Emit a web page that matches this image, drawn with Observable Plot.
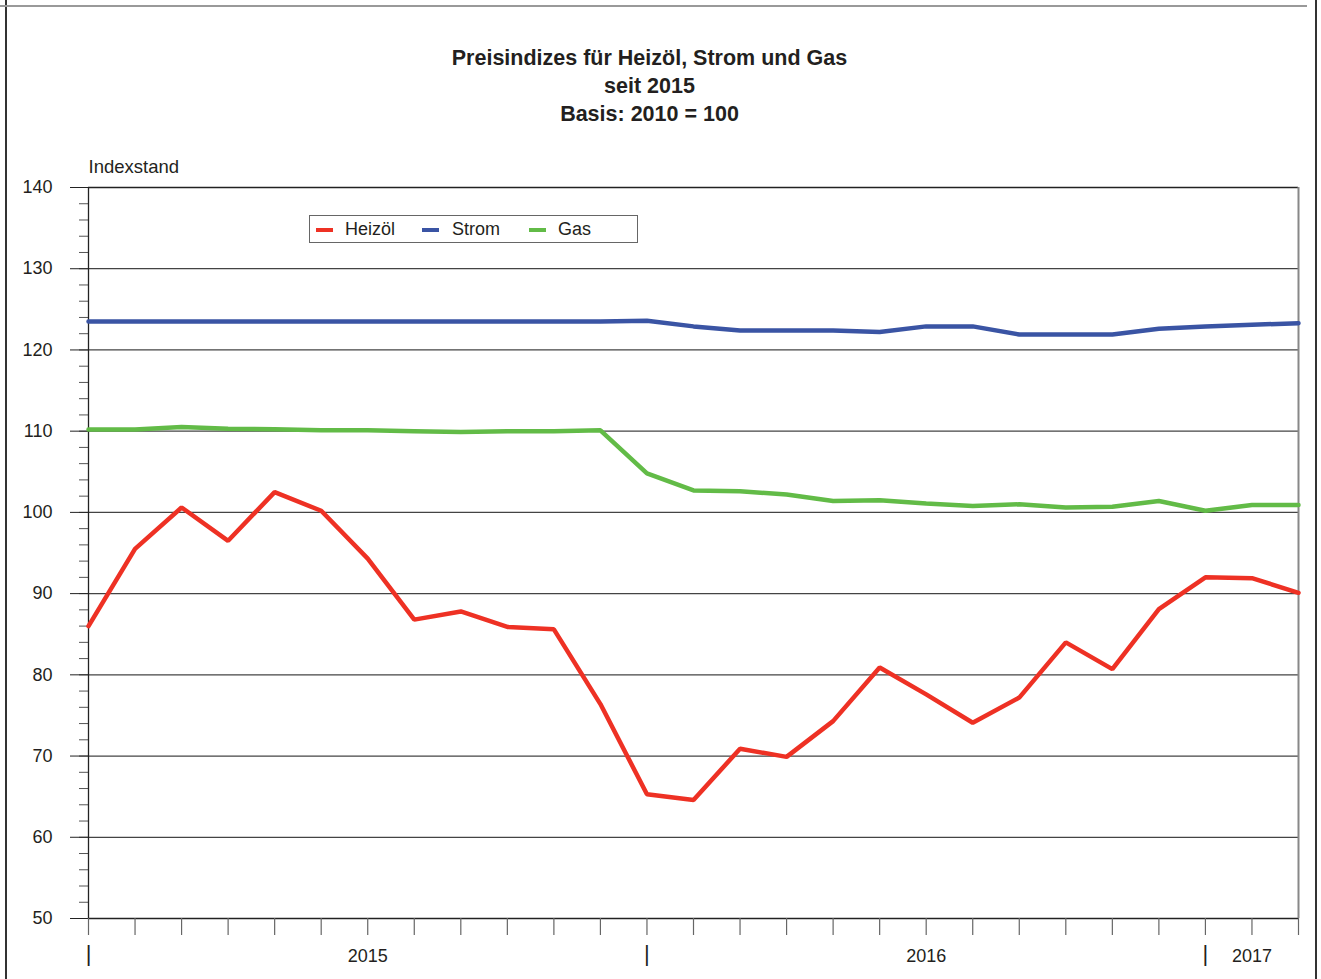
<!DOCTYPE html>
<html>
<head>
<meta charset="utf-8">
<script src="https://cdn.jsdelivr.net/npm/d3@7"></script>
<script src="https://cdn.jsdelivr.net/npm/@observablehq/plot@0.6"></script>
<style>
  body { margin: 0; background: #fff; font-family: "Liberation Sans", Arial, sans-serif; color: #231f20; }
  #wrap { position: relative; width: 1321px; height: 979px; overflow: hidden; background: #fff; }
  #title { position: absolute; top: 44px; left: 0; width: 1299px; text-align: center; font-weight: bold; font-size: 21.5px; line-height: 28px; }
  #chart { position: absolute; top: 150px; left: 0; }
  .bl { position: absolute; background: #333; }
  #legend { position: absolute; left: 309px; top: 215px; width: 327px; height: 26px; border: 1px solid #666; background: #fff; font-size: 18px; }
  #legend .sw { position: absolute; top: 12px; width: 17px; height: 4px; }
  #legend .lb { position: absolute; top: 2px; line-height: 22px; }
</style>
</head>
<body>
<div id="wrap">
  <div class="bl" style="left:5px;top:0;width:1.5px;height:979px;"></div>
  <div class="bl" style="left:0;top:5px;width:1307px;height:2px;background:#999;"></div>
  <div class="bl" style="left:1315px;top:0;width:1.5px;height:979px;"></div>
  <div id="title">Preisindizes für Heizöl, Strom und Gas<br>seit 2015<br>Basis: 2010 = 100</div>
  <div id="chart"></div>
  <div id="legend"></div>
</div>
<script>
const months = ["2015-01","2015-02","2015-03","2015-04","2015-05","2015-06","2015-07","2015-08","2015-09","2015-10","2015-11","2015-12",
                "2016-01","2016-02","2016-03","2016-04","2016-05","2016-06","2016-07","2016-08","2016-09","2016-10","2016-11","2016-12",
                "2017-01","2017-02","2017-03"];
const heizoel = [86.0, 95.5, 100.6, 96.5, 102.5, 100.2, 94.3, 86.8, 87.8, 85.9, 85.6, 76.4,
                 65.3, 64.6, 70.9, 69.9, 74.3, 80.9, 77.6, 74.1, 77.2, 84.0, 80.7, 88.1,
                 92.0, 91.9, 90.1];
const strom = [123.5, 123.5, 123.5, 123.5, 123.5, 123.5, 123.5, 123.5, 123.5, 123.5, 123.5, 123.5,
               123.6, 122.9, 122.4, 122.4, 122.4, 122.2, 122.9, 122.9, 121.9, 121.9, 121.9, 122.6,
               122.9, 123.1, 123.3];
const gas = [110.2, 110.2, 110.5, 110.3, 110.25, 110.1, 110.1, 110.0, 109.9, 110.0, 110.0, 110.1,
             104.8, 102.7, 102.6, 102.2, 101.4, 101.5, 101.1, 100.8, 101.0, 100.6, 100.7, 101.4,
             100.2, 100.9, 100.9];
const seriesNames = ["Heizöl", "Strom", "Gas"];
const seriesColors = ["#ee3124", "#3a54a4", "#62bb47"];
const yMajor = [50, 60, 70, 80, 90, 100, 110, 120, 130, 140];
const yGrid = [60, 70, 80, 90, 100, 110, 120, 130];
const yMinor = d3.range(50, 141, 2);
const yearLabelAt = ["2015-07", "2016-07", "2017-02"];
const yearSepAt = ["2015-01", "2016-01", "2017-01"];

const idx = m => months.indexOf(m);
const monthIdx = months.map((m, i) => i);
const seriesValues = [heizoel, strom, gas];
const rows = seriesNames.map((name, k) => months.map((m, i) => ({i, month: m, value: seriesValues[k][i], series: name})));

const chart = Plot.plot({
  width: 1321,
  height: 829,
  marginTop: 37,
  marginBottom: 61,
  marginLeft: 88,
  marginRight: 23,
  style: {fontFamily: "Liberation Sans, Arial, sans-serif", color: "#231f20", background: "transparent"},
  x: {domain: [0, months.length - 1], label: null},
  y: {domain: [50, 140], label: null},
  marks: [
    Plot.gridY(yGrid, {stroke: "#444", strokeOpacity: 1, strokeWidth: 1.2}),
    Plot.ruleY([50, 140], {stroke: "#222", strokeWidth: 1.3}),
    Plot.axisY({ticks: yMinor, tickSize: 9, tickFormat: () => "", stroke: "#555", label: null}),
    Plot.axisY({ticks: yMajor, tickSize: 18, tickPadding: 18, fontSize: 18, stroke: "#222", label: null}),
    Plot.axisX({ticks: monthIdx, tickSize: 17, tickFormat: () => "", stroke: "#666", strokeWidth: 1.2, label: null}),
    Plot.axisX({ticks: yearLabelAt.map(idx), tickSize: 0, tickPadding: 31, fontSize: 18, tickFormat: i => months[i].slice(0, 4), label: null}),
    Plot.axisX({ticks: yearSepAt.map(idx), tickSize: 0, tickPadding: 27, fontSize: 22, tickFormat: () => "|", label: null}),
    Plot.ruleX([0], {stroke: "#222", strokeWidth: 1.3}),
    Plot.ruleX([months.length - 1], {stroke: "#888", strokeWidth: 2}),
    ...rows.map((r, k) => Plot.line(r, {x: "i", y: "value", stroke: seriesColors[k], strokeWidth: 4.5, strokeLinejoin: "miter"})),
    Plot.text(["Indexstand"], {frameAnchor: "top-left", lineAnchor: "middle", dy: -20, fontSize: 18.5, textAnchor: "start", fill: "#231f20"})
  ]
});
document.getElementById("chart").appendChild(chart);

const legend = document.getElementById("legend");
const swX = [6, 112, 219];
const lbX = [35, 142, 248];
seriesNames.forEach((name, k) => {
  const sw = document.createElement("div");
  sw.className = "sw"; sw.style.left = swX[k] + "px"; sw.style.background = seriesColors[k];
  legend.appendChild(sw);
  const lb = document.createElement("div");
  lb.className = "lb"; lb.style.left = lbX[k] + "px"; lb.textContent = name;
  legend.appendChild(lb);
});
</script>
</body>
</html>
